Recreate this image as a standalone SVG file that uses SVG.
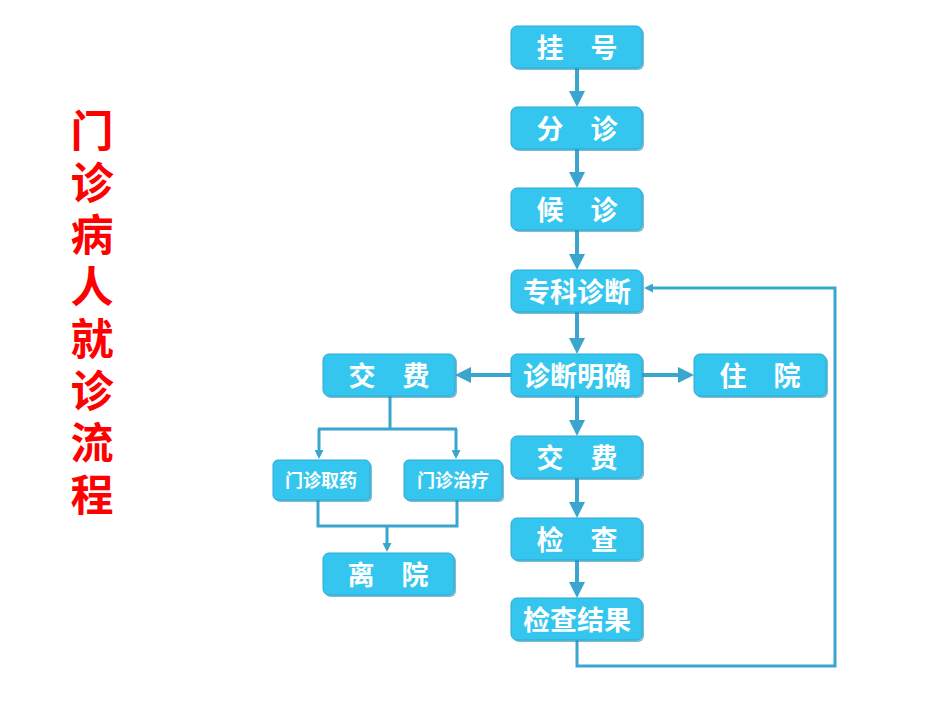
<svg xmlns="http://www.w3.org/2000/svg" width="950" height="713" viewBox="0 0 950 713">
<style>
.b{fill:#35c6ef;stroke:#2aa9d4;stroke-width:1}
.s{fill:#1f8fb8;opacity:.6}
.t{font-family:"Noto Sans CJK SC",sans-serif;font-weight:bold;fill:#fff;text-anchor:middle;dominant-baseline:central}
.c{stroke:#3aa6cf;stroke-width:4;fill:none}
.ti{font-family:"Noto Sans CJK SC",sans-serif;font-weight:bold;fill:#f00;font-size:43px;text-anchor:middle}
</style>
<defs>
<marker id="a" markerWidth="4" markerHeight="4" refX="3" refY="2" orient="auto"><path d="M0,0L4,2L0,4z" fill="#3aa6cf"/></marker>
<marker id="a2" markerWidth="3" markerHeight="3" refX="2" refY="1.5" orient="auto"><path d="M0,0L3,1.5L0,3z" fill="#3aa6cf"/></marker>
</defs>
<rect width="950" height="713" fill="#fff"/>
<g id="title">
<text class="ti" x="92" y="147">门</text><text class="ti" x="92" y="199">诊</text><text class="ti" x="92" y="251">病</text><text class="ti" x="92" y="303">人</text><text class="ti" x="92" y="355">就</text><text class="ti" x="92" y="407">诊</text><text class="ti" x="92" y="459">流</text><text class="ti" x="92" y="511">程</text>
</g>
<g id="connectors">
<path class="c" marker-end="url(#a)" d="M577,68V103"/>
<path class="c" marker-end="url(#a)" d="M577,149V184"/>
<path class="c" marker-end="url(#a)" d="M577,230V266"/>
<path class="c" marker-end="url(#a)" d="M577,312V350"/>
<path class="c" marker-end="url(#a)" d="M577,396V432"/>
<path class="c" marker-end="url(#a)" d="M577,478V514"/>
<path class="c" marker-end="url(#a)" d="M577,560V594"/>
<path class="c" marker-end="url(#a)" d="M642,375H690"/>
<path class="c" marker-end="url(#a)" d="M511,375H459"/>
<path class="c" style="stroke-width:3" marker-end="url(#a2)" d="M577,640V666H835V288H647"/>
<path class="c" style="stroke-width:3" d="M390,396V429M318,429H457"/>
<path class="c" style="stroke-width:3" marker-end="url(#a2)" d="M319,429V456"/>
<path class="c" style="stroke-width:3" marker-end="url(#a2)" d="M456,429V456"/>
<path class="c" style="stroke-width:3" d="M318,500V526H457V500"/>
<path class="c" style="stroke-width:3" marker-end="url(#a2)" d="M387,526V549"/>
</g>
<g id="n1"><rect class="s" x="513" y="28" width="131" height="42" rx="6"/><rect class="b" x="511" y="26" width="131" height="42" rx="6"/><text class="t" x="577" y="46" font-size="27">挂　号</text></g>
<g id="n2"><rect class="s" x="513" y="109" width="131" height="42" rx="6"/><rect class="b" x="511" y="107" width="131" height="42" rx="6"/><text class="t" x="577" y="127" font-size="27">分　诊</text></g>
<g id="n3"><rect class="s" x="513" y="190" width="131" height="42" rx="6"/><rect class="b" x="511" y="188" width="131" height="42" rx="6"/><text class="t" x="577" y="208" font-size="27">候　诊</text></g>
<g id="n4"><rect class="s" x="513" y="272" width="131" height="42" rx="6"/><rect class="b" x="511" y="270" width="131" height="42" rx="6"/><text class="t" x="577" y="290" font-size="27">专科诊断</text></g>
<g id="n5"><rect class="s" x="513" y="356" width="131" height="42" rx="6"/><rect class="b" x="511" y="354" width="131" height="42" rx="6"/><text class="t" x="577" y="374" font-size="27">诊断明确</text></g>
<g id="n6"><rect class="s" x="513" y="438" width="131" height="42" rx="6"/><rect class="b" x="511" y="436" width="131" height="42" rx="6"/><text class="t" x="577" y="456" font-size="27">交　费</text></g>
<g id="n7"><rect class="s" x="513" y="520" width="131" height="42" rx="6"/><rect class="b" x="511" y="518" width="131" height="42" rx="6"/><text class="t" x="577" y="538" font-size="27">检　查</text></g>
<g id="n8"><rect class="s" x="513" y="600" width="131" height="42" rx="6"/><rect class="b" x="511" y="598" width="131" height="42" rx="6"/><text class="t" x="577" y="618" font-size="27">检查结果</text></g>
<g id="n9"><rect class="s" x="325" y="356" width="132" height="42" rx="6"/><rect class="b" x="323" y="354" width="132" height="42" rx="6"/><text class="t" x="389" y="374" font-size="27">交　费</text></g>
<g id="n10"><rect class="s" x="696" y="356" width="132" height="42" rx="6"/><rect class="b" x="694" y="354" width="132" height="42" rx="6"/><text class="t" x="760" y="374" font-size="27">住　院</text></g>
<g id="n11"><rect class="s" x="275" y="462" width="97" height="40" rx="5"/><rect class="b" x="273" y="460" width="97" height="40" rx="5"/><text class="t" x="321" y="479" font-size="18">门诊取药</text></g>
<g id="n12"><rect class="s" x="406" y="462" width="98" height="40" rx="5"/><rect class="b" x="404" y="460" width="98" height="40" rx="5"/><text class="t" x="453" y="479" font-size="18">门诊治疗</text></g>
<g id="n13"><rect class="s" x="325" y="555" width="131" height="42" rx="6"/><rect class="b" x="323" y="553" width="131" height="42" rx="6"/><text class="t" x="388" y="573" font-size="27">离　院</text></g>
</svg>
